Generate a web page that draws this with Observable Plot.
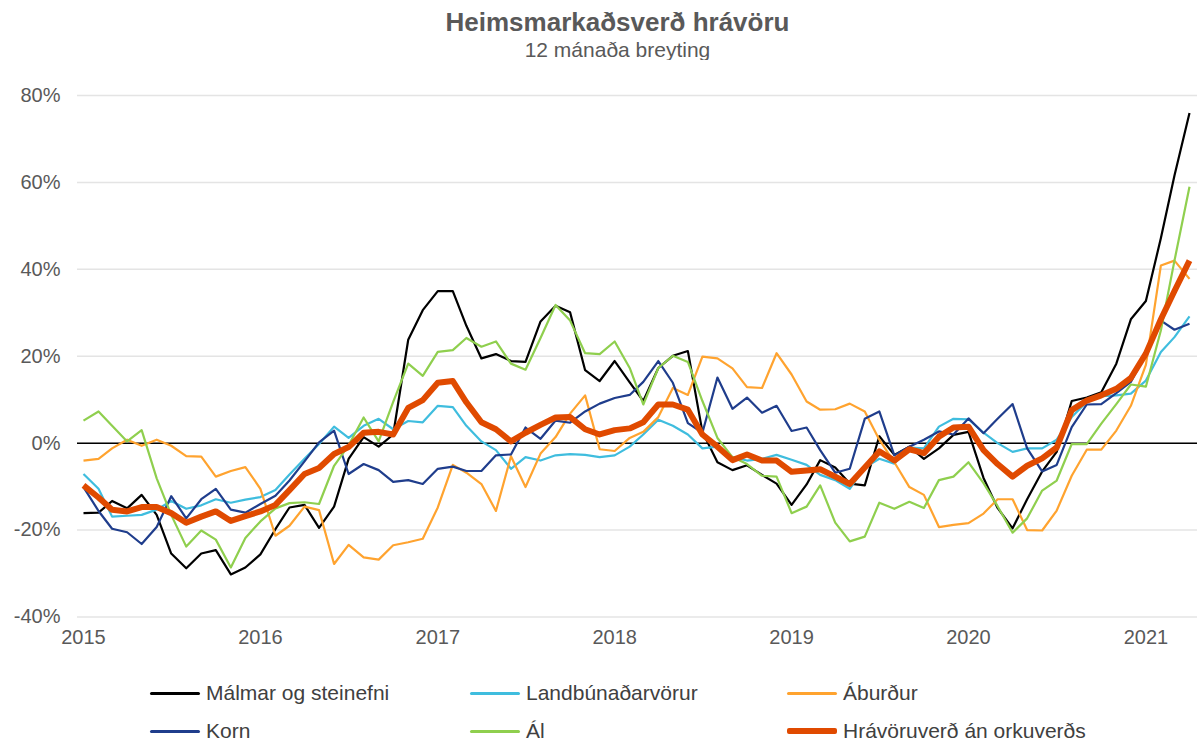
<!DOCTYPE html>
<html>
<head>
<meta charset="utf-8">
<script src="https://cdn.jsdelivr.net/npm/d3@7"></script>
<script src="https://cdn.jsdelivr.net/npm/@observablehq/plot@0.6"></script>
<style>
  html, body { margin: 0; padding: 0; background: #fff; }
  body { width: 1197px; height: 740px; position: relative; overflow: hidden; font-family: "Liberation Sans", Arial, sans-serif; color: #595959; }
  #title { position: absolute; left: 38px; width: 1159px; top: 7px; text-align: center; font-weight: bold; font-size: 26px; line-height: 30px; }
  #subtitle { position: absolute; left: 38px; width: 1159px; top: 38px; text-align: center; font-size: 21px; line-height: 24px; }
  #chart { position: absolute; left: 0; top: 60px; }
  #legend { position: absolute; left: 0; top: 672px; width: 1197px; }
  .item { position: absolute; display: flex; align-items: center; height: 38px; font-size: 21px; color: #404040; }
  .sw { width: 50px; margin-right: 6px; border-radius: 2px; }
</style>
</head>
<body>
<div id="title"></div>
<div id="subtitle"></div>
<div id="chart"></div>
<div id="legend"></div>
<script>
// ---- Text ----
const titleText = "Heimsmarkaðsverð hrávöru";
const subtitleText = "12 mánaða breyting";

// ---- Categories: monthly, Jan 2015 – Apr 2021 ----
const months = d3.utcMonth.range(new Date(Date.UTC(2015, 0, 1)), new Date(Date.UTC(2021, 4, 1)));
const xTickYears = [2015, 2016, 2017, 2018, 2019, 2020, 2021];
const yTicks = [-40, -20, 0, 20, 40, 60, 80];

// ---- Series (12-month % change) ----
const malmar = [-16.1, -16, -13.3, -15, -11.9, -16.5, -25.4, -28.8, -25.4, -24.6, -30.2, -28.6,
  -25.6, -19.8, -14.8, -14.2, -19.5, -14.6, -3.6, 1.4, -0.8, 2, 23.8, 30.6,
  35, 35, 27, 19.5, 20.5, 18.9, 18.7, 28, 31.6, 30.1, 16.8, 14.3,
  18.9, 14, 9.7, 17.3, 20.1, 21.2, 2.6, -4.4, -6.2, -5.1, -7.3, -9.3,
  -14.2, -9.5, -3.9, -5.6, -9.3, -9.7, 1.6, -2.7, -0.8, -3.6, -1.2, 1.9,
  2.6, -8, -14.9, -19.6, -12.9, -6.5, -2, 9.7, 10.5, 11.7, 18.3, 28.5,
  32.7, 47.2, 61.6, 76];
const landbunadur = [-7.1, -10.5, -16.9, -16.7, -16.5, -15.3, -13.3, -15.1, -14.3, -12.9, -13.7, -13,
  -12.4, -10.8, -7.2, -3.6, -0.2, 3.8, 1.2, 4, 5.6, 3.2, 5.1, 4.8,
  8.6, 8.3, 4, 0.4, -1.6, -5.9, -3.2, -4, -2.8, -2.5, -2.7, -3.2,
  -2.8, -0.8, 2, 5.4, 4, 2, -1.2, -0.8, -3.2, -4, -3.6, -2.7,
  -3.8, -5, -7.3, -8.5, -10.5, -5.6, -3.6, -4.7, -1, -1.2, 3.8, 5.6,
  5.5, 2.4, 0, -2, -1.2, -1.2, 0.8, 6, 9.5, 10.8, 11, 11.4,
  14.4, 21, 24.4, 29.2];
const aburdur = [-4, -3.6, -1.2, 0.8, -0.6, 0.8, -0.6, -3, -3.1, -7.7, -6.4, -5.5,
  -10.5, -21.3, -19, -14.6, -15.4, -27.8, -23.4, -26.3, -26.8, -23.5, -22.8, -22,
  -14.8, -5, -6.8, -9.4, -15.6, -3, -10.1, -2.4, 1.4, 6.8, 11, -1.4,
  -1.8, 1.2, 2.6, 6, 12.7, 11.1, 19.9, 19.5, 17.2, 12.9, 12.7, 20.7,
  15.8, 9.6, 7.7, 7.8, 9.1, 7.3, 0.8, -4.4, -10.1, -11.9, -19.3, -18.8,
  -18.4, -16.2, -12.9, -12.9, -20, -20.1, -15.5, -7.5, -1.5, -1.5, 2.9, 8.6,
  18, 40.9, 42, 37.8];
const korn = [-10.1, -15.6, -19.7, -20.5, -23.2, -19.3, -12.2, -17.3, -12.9, -10.5, -15.3, -16,
  -14, -12.1, -8.6, -4.2, 0.2, 2.9, -7.1, -4.8, -6.2, -8.9, -8.5, -9.4,
  -5.9, -5.4, -6.4, -6.4, -2.8, -2.6, 3.6, 1, 5.2, 4.7, 7.3, 9.1,
  10.4, 11.1, 14.1, 18.9, 13.9, 4.6, 2.4, 15.1, 7.9, 10.5, 7, 8.6,
  2.8, 3.6, -1.6, -6.8, -5.9, 5.6, 7.3, -2.8, -0.8, 0.8, 2.7, 2,
  5.7, 2.3, 5.6, 9, -1.2, -6.5, -5, 3.7, 8.9, 9, 11.5, 14.1,
  20.5, 28.2, 26.1, 27.5];
const al = [5.2, 7.3, 4, 0.4, 3, -8.1, -16.5, -23.8, -20.1, -22.2, -28.6, -21.8,
  -18, -15, -13.8, -13.6, -14, -5.2, -0.5, 5.9, 0.4, 9.5, 18.3, 15.5,
  21, 21.4, 24.2, 22.2, 23.4, 18.3, 16.9, 24.2, 31.8, 28.2, 20.7, 20.5,
  23.4, 17.3, 8.9, 17.3, 20.1, 18.7, 9.7, 1.2, -3.2, -4.8, -7.5, -7.7,
  -16.1, -14.6, -9.7, -18.3, -22.6, -21.5, -13.7, -15.1, -13.5, -14.9, -8.5, -7.7,
  -4.4, -9.2, -14.5, -20.6, -17.3, -10.9, -8.6, -0.2, -0.2, 4.5, 9, 13.5,
  13, 26, 42, 59];
const hravoruverd = [-9.7, -12.5, -15.3, -15.7, -14.7, -14.7, -16.1, -18.3, -16.9, -15.7, -17.9, -16.8,
  -15.7, -14.2, -10.8, -7.1, -5.7, -2.5, -0.9, 2.4, 2.6, 2, 8.1, 9.9,
  13.9, 14.3, 9.4, 4.8, 3.2, 0.4, 2.4, 4.2, 5.9, 6, 3.2, 2,
  3, 3.4, 4.8, 8.9, 8.9, 7.7, 2, -0.8, -3.9, -2.6, -4, -4,
  -6.6, -6.3, -6, -7.7, -9.4, -5.6, -1.9, -4, -1.4, -2.3, 1.5, 3.6,
  3.8, -1.6, -4.8, -7.7, -5.2, -3.5, -1, 7.6, 9.8, 11, 12.5, 15,
  20.6, 28.5, 35, 42];

const seriesNames = ["Málmar og steinefni", "Landbúnaðarvörur", "Áburður", "Korn", "Ál", "Hrávöruverð án orkuverðs"];
const seriesValues = [malmar, landbunadur, aburdur, korn, al, hravoruverd];
const seriesColors = ["#000000", "#3FBDDE", "#FFA32F", "#1F3D8C", "#8FCF4E", "#E04A00"];
const seriesWidths = [2.2, 2.2, 2.2, 2.2, 2.2, 6];

// ---- Titles ----
document.getElementById("title").textContent = titleText;
document.getElementById("subtitle").textContent = subtitleText;

// ---- Chart ----
const lineMarks = seriesValues.map((vals, i) =>
  Plot.line(months.map((d, j) => ({date: d, value: vals[j]})), {
    x: "date", y: "value", stroke: seriesColors[i], strokeWidth: seriesWidths[i],
    strokeLinejoin: "round", strokeLinecap: "butt"
  })
);

const chart = Plot.plot({
  width: 1197,
  height: 600,
  marginLeft: 77,
  marginRight: 0,
  marginTop: 35,
  marginBottom: 43.5,
  style: {fontFamily: "'Liberation Sans', Arial, sans-serif", fontSize: "20px", color: "#595959", background: "white", overflow: "visible"},
  x: {
    type: "utc",
    domain: [months[0], months[months.length - 1]],
    insetLeft: 6, insetRight: 8,
    ticks: xTickYears.map(y => new Date(Date.UTC(y, 0, 1))),
    tickFormat: d => String(d.getUTCFullYear()),
    tickSize: 0, tickPadding: 13, label: null
  },
  y: {
    domain: [-40, 80],
    ticks: yTicks,
    tickFormat: d => d + "%",
    tickSize: 0, tickPadding: 17, label: null
  },
  marks: [
    Plot.ruleY(yTicks, {stroke: "#e4e4e4", strokeWidth: 1.5}),
    Plot.ruleY([0], {stroke: "#000", strokeWidth: 1.5}),
    ...lineMarks
  ]
});
document.getElementById("chart").appendChild(chart);

// ---- Legend ----
const legendCols = [150, 470, 787];
const legendRows = [674, 712];
const legend = document.getElementById("legend");
seriesNames.forEach((name, i) => {
  const item = document.createElement("div");
  item.className = "item";
  item.style.left = legendCols[i % 3] + "px";
  item.style.top = (legendRows[Math.floor(i / 3)] - 672) + "px";
  const sw = document.createElement("div");
  sw.className = "sw";
  sw.style.background = seriesColors[i];
  sw.style.height = (i === 5 ? 6 : 3) + "px";
  const t = document.createElement("span");
  t.textContent = name;
  item.appendChild(sw);
  item.appendChild(t);
  legend.appendChild(item);
});
</script>
</body>
</html>
